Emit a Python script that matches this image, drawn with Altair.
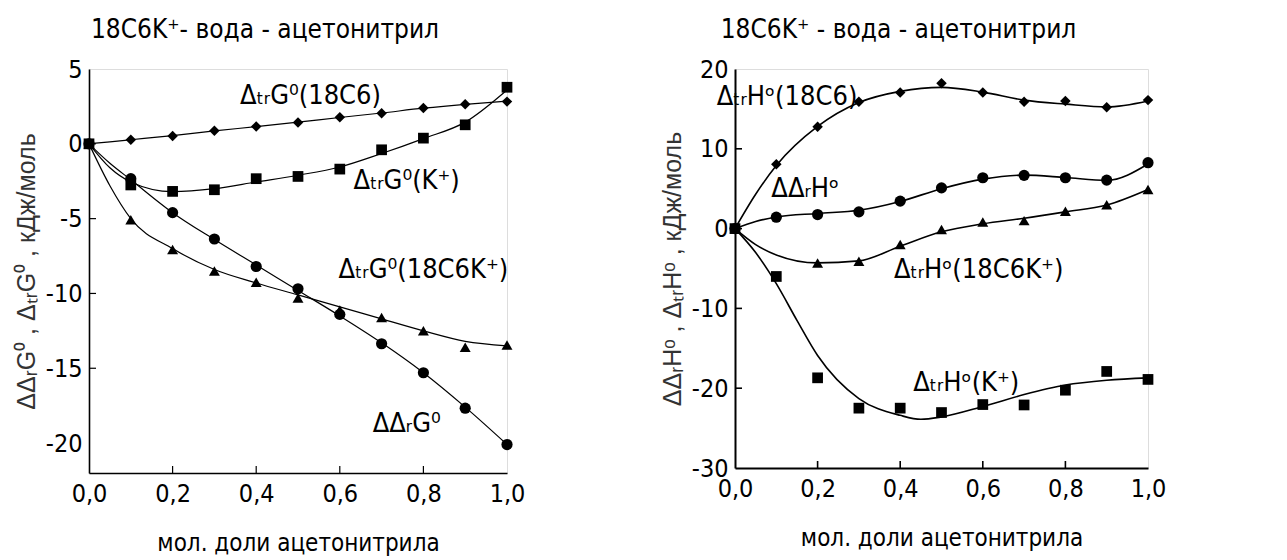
import altair as alt
import pandas as pd

# ---------------- data ----------------
x_pts = [0.0, 0.1, 0.2, 0.3, 0.4, 0.5, 0.6, 0.7, 0.8, 0.9, 1.0]

# left panel: Gibbs energies, kJ/mol
g_18c6 = [0.0, 0.27, 0.53, 0.87, 1.16, 1.42, 1.78, 2.04, 2.40, 2.64, 2.82]
g_k = [0.0, -2.75, -3.18, -3.07, -2.33, -2.18, -1.69, -0.40, 0.38, 1.27, 3.78]
g_ddr = [0.0, -2.33, -4.60, -6.36, -8.20, -9.69, -11.40, -13.36, -15.30, -17.67, -20.10]
g_18c6k = [0.0, -5.07, -7.07, -8.50, -9.25, -10.30, -11.10, -11.60, -12.50, -13.60, -13.45]

# left panel fitted curves
gc_x = [0.0, 0.05, 0.1, 0.2, 0.3, 0.4, 0.5, 0.6, 0.7, 0.8, 0.9, 1.0]
gc_18c6 = [0.0, 0.13, 0.27, 0.55, 0.86, 1.15, 1.45, 1.76, 2.06, 2.38, 2.64, 2.85]
gc_k = [0.0, -1.6, -2.55, -3.2, -3.0, -2.55, -2.1, -1.55, -0.65, 0.35, 1.45, 3.6]
gc_ddr = [0.0, -1.3, -2.4, -4.6, -6.4, -8.1, -9.8, -11.5, -13.3, -15.3, -17.6, -20.1]
gc_18c6k = [0.0, -2.8, -5.0, -7.0, -8.4, -9.3, -10.1, -10.9, -11.7, -12.5, -13.2, -13.5]

# right panel: enthalpies, kJ/mol
h_18c6 = [0.0, 8.05, 12.75, 15.9, 17.06, 18.2, 17.06, 15.9, 16.0, 15.2, 16.1]
h_ddr = [0.0, 1.43, 1.76, 2.1, 3.44, 5.1, 6.37, 6.67, 6.37, 6.08, 8.26]
h_18c6k_x = [0.0, 0.2, 0.3, 0.4, 0.5, 0.6, 0.7, 0.8, 0.9, 1.0]
h_18c6k = [0.0, -4.3, -4.1, -2.0, -0.1, 0.84, 1.0, 2.18, 3.0, 4.9]
h_k = [0.0, -6.0, -18.7, -22.5, -22.5, -23.05, -22.05, -22.1, -20.25, -17.9, -18.9]

# right panel fitted curves
hc_x = [0.0, 0.05, 0.1, 0.2, 0.3, 0.4, 0.5, 0.6, 0.7, 0.8, 0.9, 1.0]
hc_18c6 = [0.0, 4.3, 7.9, 12.8, 15.8, 17.2, 17.7, 17.1, 16.1, 15.6, 15.25, 16.0]
hc_ddr = [0.0, 0.9, 1.45, 1.9, 2.3, 3.4, 5.0, 6.2, 6.7, 6.4, 6.05, 8.1]
hc_18c6k = [0.0, -2.0, -3.3, -4.3, -4.05, -2.2, -0.4, 0.6, 1.3, 2.1, 2.95, 4.9]
hc_k_x = [0.0, 0.05, 0.1, 0.15, 0.2, 0.3, 0.4, 0.45, 0.5, 0.6, 0.7, 0.8, 0.9, 1.0]
hc_k = [0.0, -3.0, -6.9, -11.5, -15.9, -21.3, -23.4, -23.9, -23.6, -22.3, -20.8, -19.6, -19.0, -18.7]

# axis ticks
x_ticks = [0.0, 0.2, 0.4, 0.6, 0.8, 1.0]
g_ticks = [5, 0, -5, -10, -15, -20]
h_ticks = [20, 10, 0, -10, -20, -30]

# annotations
g_lab_text = ["ΔₜᵣG⁰(18C6)", "ΔₜᵣG⁰(K⁺)", "ΔₜᵣG⁰(18C6K⁺)", "ΔΔᵣG⁰"]
g_lab_x = [0.53, 0.76, 0.80, 0.76]
g_lab_y = [3.2, -2.5, -8.4, -18.7]
h_lab_text = ["ΔₜᵣHᵒ(18C6)", "ΔΔᵣHᵒ", "ΔₜᵣHᵒ(18C6K⁺)", "ΔₜᵣHᵒ(K⁺)"]
h_lab_x = [0.126, 0.17, 0.59, 0.56]
h_lab_y = [16.5, 4.9, -5.2, -19.4]

series = ["18C6", "K", "18C6K", "ddr"]
shapes = ["diamond", "square", "triangle-up", "circle"]
sizes = [110, 125, 95, 110]

NARROW = "DejaVu Sans Condensed, Liberation Sans Narrow, DejaVu Sans"
YLAB = "datum.value < 0 ? '-' + abs(datum.value) : '' + datum.value"


def long(xs, ys, name):
    return pd.DataFrame({"x": xs, "y": ys, "s": name})


def panel(pts, crv, ticks_y, ydom, labels, w, h, title, title_dx, ytitle, lw):
    X = alt.X("x:Q", scale=alt.Scale(domain=[0, 1], nice=False, zero=False),
              axis=alt.Axis(values=x_ticks, ticks=False, grid=False,
                            domain=True, domainColor="black", domainWidth=lw + 0.4,
                            labelExpr="replace(format(datum.value, '.1f'), '.', ',')",
                            labelFont=NARROW, labelFontSize=25, labelPadding=8,
                            labelColor="black", labelFlush=False,
                            title="мол. доли  ацетонитрила", titleFont=NARROW,
                            titleFontSize=24, titleFontWeight="normal",
                            titleColor="black", titlePadding=25))
    Y = alt.Y("y:Q", scale=alt.Scale(domain=ydom, nice=False, zero=False),
              axis=alt.Axis(values=ticks_y, ticks=False, grid=False,
                            domain=True, domainColor="black", domainWidth=lw + 0.4,
                            labelExpr=YLAB,
                            labelFont=NARROW, labelFontSize=25, labelPadding=7,
                            labelColor="black", labelFlush=False,
                            title=ytitle, titleFont="Liberation Sans",
                            titleFontSize=25, titleFontWeight="normal",
                            titleColor="#333333", titlePadding=6))
    shp = alt.Shape("s:N", scale=alt.Scale(domain=series, range=shapes), legend=None)
    siz = alt.Size("s:N", scale=alt.Scale(domain=series, range=sizes), legend=None)

    lines = alt.Chart(crv).mark_line(interpolate="monotone", color="black",
                                     strokeWidth=lw).encode(x=X, y=Y, detail="s:N")
    marks = alt.Chart(pts).mark_point(filled=True, color="black", opacity=1).encode(
        x=X, y=Y, shape=shp, size=siz)
    xt = alt.Chart(pd.DataFrame({"x": x_ticks[1:-1]})).mark_rule(
        color="black", strokeWidth=lw).encode(x=X, y=alt.value(h), y2=alt.value(h - 7))
    yt = alt.Chart(pd.DataFrame({"y": ticks_y[1:-1]})).mark_rule(
        color="black", strokeWidth=lw).encode(y=Y, x=alt.value(0), x2=alt.value(7))
    txt = alt.Chart(labels).mark_text(font=NARROW, fontSize=27, color="black",
                                      align="center", baseline="middle").encode(
        x=X, y=Y, text="t:N")
    return alt.layer(lines, marks, xt, yt, txt).properties(
        width=w, height=h,
        title=alt.TitleParams(title, font=NARROW, fontSize=26, fontWeight="normal",
                              color="black", dx=title_dx, offset=14))


g_pts = pd.concat([long(x_pts, g_18c6, "18C6"), long(x_pts, g_k, "K"),
                   long(x_pts, g_18c6k, "18C6K"), long(x_pts, g_ddr, "ddr")])
g_crv = pd.concat([long(gc_x, gc_18c6, "18C6"), long(gc_x, gc_k, "K"),
                   long(gc_x, gc_18c6k, "18C6K"), long(gc_x, gc_ddr, "ddr")])
h_pts = pd.concat([long(x_pts, h_18c6, "18C6"), long(x_pts, h_k, "K"),
                   long(h_18c6k_x, h_18c6k, "18C6K"), long(x_pts, h_ddr, "ddr")])
h_crv = pd.concat([long(hc_x, hc_18c6, "18C6"), long(hc_k_x, hc_k, "K"),
                   long(hc_x, hc_18c6k, "18C6K"), long(hc_x, hc_ddr, "ddr")])
g_lab = pd.DataFrame({"x": g_lab_x, "y": g_lab_y, "t": g_lab_text})
h_lab = pd.DataFrame({"x": h_lab_x, "y": h_lab_y, "t": h_lab_text})

left = panel(g_pts, g_crv, g_ticks, [-22, 5], g_lab, 418, 404,
             "18C6K⁺- вода - ацетонитрил", -33,
             "ΔΔᵣG⁰ ,  ΔₜᵣG⁰ ,  кДж/моль", 1.2)
right = panel(h_pts, h_crv, h_ticks, [-30, 20], h_lab, 413, 399,
              "18C6K⁺ - вода - ацетонитрил", -43,
              "ΔΔᵣHᵒ ,  ΔₜᵣHᵒ ,  кДж/моль", 1.6)

chart = alt.hconcat(left, right, spacing=133).properties(
    padding={"left": 5, "top": 8, "right": 5, "bottom": 0}
).configure_view(stroke="black", strokeWidth=2, strokeOpacity=1).configure(background="white")

chart.save("out.html", embed_options={"renderer": "svg", "actions": False})
